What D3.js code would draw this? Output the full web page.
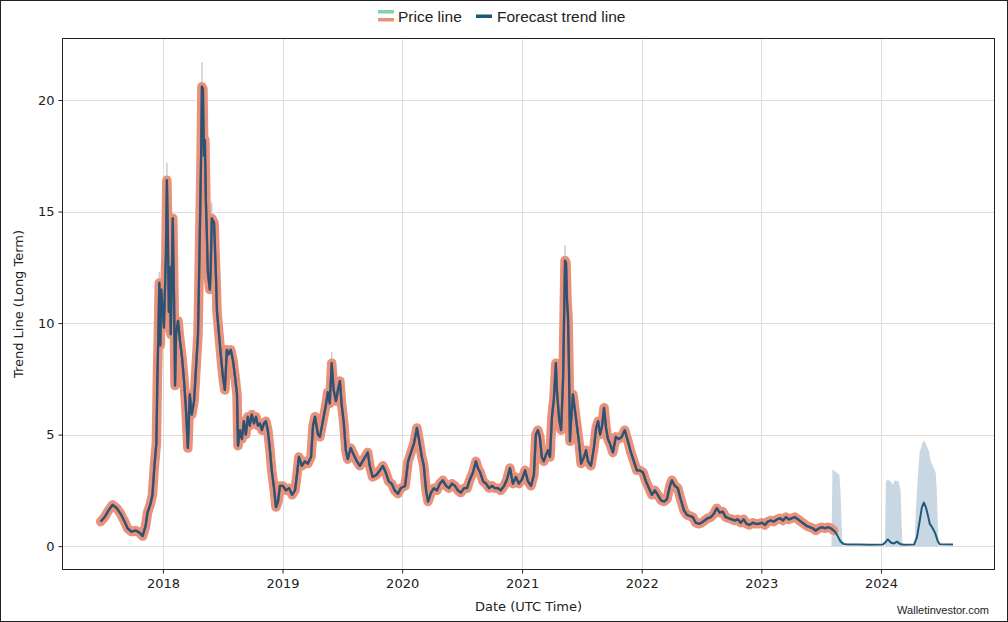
<!DOCTYPE html>
<html><head><meta charset="utf-8">
<script src="https://cdn.jsdelivr.net/npm/d3@7"></script>
<style>
html,body{margin:0;padding:0;background:#fff;}
svg{display:block;}
</style></head>
<body>
<svg id="chart" width="1008" height="622"></svg>
<script>
// ---------- DATA ----------
const priceSeries = [
["2017-06-25",1.1],["2017-07-07",1.3],["2017-07-19",1.6],["2017-07-31",1.85],["2017-08-13",1.7],["2017-08-25",1.45],
["2017-09-06",1.1],["2017-09-15",0.8],["2017-09-27",0.65],["2017-10-10",0.7],["2017-10-22",0.6],["2017-10-31",0.45],
["2017-11-09",0.9],["2017-11-15",1.5],["2017-11-24",1.9],["2017-11-30",2.3],["2017-12-06",3.6],["2017-12-12",4.6],
["2017-12-15",7.5],["2017-12-18",9.5],["2017-12-21",11.8],["2017-12-24",9.0],["2017-12-27",11.5],
["2018-01-04",9.8],["2018-01-10",13],["2018-01-13",16.4],["2018-01-16",14],["2018-01-19",10.5],["2018-01-22",12.5],
["2018-01-25",9.5],["2018-01-28",12],["2018-01-31",14.7],["2018-02-04",11],["2018-02-07",7.2],["2018-02-10",9.5],
["2018-02-16",10.1],["2018-02-22",9.2],["2018-02-28",8.5],["2018-03-06",7.5],["2018-03-12",6.2],["2018-03-18",4.4],
["2018-03-24",6.8],["2018-03-30",5.9],["2018-04-06",6.5],["2018-04-12",8.0],["2018-04-18",9.5],["2018-04-21",11.9],
["2018-04-27",17],["2018-04-30",20.6],["2018-05-03",20.5],["2018-05-06",17.5],["2018-05-09",18.2],["2018-05-12",15.5],
["2018-05-15",14],["2018-05-18",12.3],["2018-05-24",11.5],["2018-05-27",12.5],["2018-05-30",14.7],["2018-06-06",14.5],
["2018-06-12",12],["2018-06-15",10.5],["2018-06-21",9.5],["2018-06-27",8.5],["2018-07-03",7.6],["2018-07-09",7.0],
["2018-07-15",8.8],["2018-07-21",8.6],["2018-07-27",8.8],["2018-08-03",8.3],["2018-08-09",7.6],["2018-08-15",6.8],
["2018-08-18",4.5],["2018-08-24",5.2],["2018-08-30",4.8],["2018-09-05",5.6],["2018-09-11",5.0],["2018-09-17",5.8],
["2018-09-23",5.4],["2018-09-29",5.9],["2018-10-06",5.5],["2018-10-12",5.8],["2018-10-18",5.4],["2018-10-24",5.5],
["2018-10-30",5.2],["2018-11-05",5.5],["2018-11-11",5.6],["2018-11-17",5.2],["2018-11-23",4.4],["2018-11-29",3.4],
["2018-12-06",2.6],["2018-12-12",1.75],["2018-12-18",2.0],["2018-12-24",2.7],
["2019-01-02",2.7],["2019-01-11",2.5],["2019-01-21",2.6],["2019-01-30",2.3],["2019-02-08",2.5],["2019-02-14",3.2],
["2019-02-20",4.0],["2019-03-01",3.6],["2019-03-10",3.8],["2019-03-19",3.7],["2019-03-29",4.0],["2019-04-04",5.4],
["2019-04-10",5.8],["2019-04-19",5.0],["2019-04-25",4.9],["2019-05-04",5.6],["2019-05-13",6.3],["2019-05-19",6.9],
["2019-05-25",6.4],["2019-05-31",8.2],["2019-06-06",7.0],["2019-06-13",6.5],["2019-06-19",7.0],["2019-06-25",7.4],
["2019-06-30",6.4],["2019-07-07",5.5],["2019-07-13",4.3],["2019-07-19",3.9],["2019-07-28",4.4],["2019-08-06",4.1],
["2019-08-16",3.8],["2019-08-25",3.6],["2019-09-06",3.9],["2019-09-18",4.2],["2019-09-24",3.6],["2019-10-03",3.1],
["2019-10-15",3.2],["2019-10-25",3.4],["2019-11-03",3.6],["2019-11-12",3.3],["2019-11-21",2.9],["2019-11-30",2.8],
["2019-12-09",2.5],["2019-12-19",2.35],["2019-12-28",2.6],
["2020-01-10",2.7],["2020-01-19",3.8],["2020-01-28",4.2],["2020-02-06",4.6],["2020-02-15",5.3],["2020-02-21",4.8],
["2020-03-01",4.0],["2020-03-07",3.6],["2020-03-14",2.5],["2020-03-20",2.0],["2020-03-29",2.4],["2020-04-07",2.6],
["2020-04-16",2.5],["2020-04-25",2.8],["2020-05-04",2.95],["2020-05-14",2.7],["2020-05-23",2.6],["2020-06-01",2.8],
["2020-06-10",2.7],["2020-06-19",2.5],["2020-06-28",2.4],["2020-07-08",2.6],["2020-07-17",2.6],["2020-07-26",3.0],
["2020-08-04",3.3],["2020-08-13",3.8],["2020-08-19",3.5],["2020-08-26",3.3],["2020-09-04",2.9],["2020-09-13",2.8],
["2020-09-22",2.6],["2020-10-01",2.7],["2020-10-10",2.6],["2020-10-19",2.6],["2020-10-28",2.5],["2020-11-07",2.7],
["2020-11-16",3.0],["2020-11-25",3.5],["2020-12-04",2.8],["2020-12-13",3.1],["2020-12-22",2.8],
["2021-01-01",3.0],["2021-01-10",3.4],["2021-01-19",2.9],["2021-01-28",2.7],["2021-02-06",3.2],["2021-02-12",5.0],
["2021-02-18",5.2],["2021-02-24",4.9],["2021-03-02",4.0],["2021-03-08",3.8],["2021-03-15",4.1],["2021-03-21",4.3],
["2021-03-27",4.0],["2021-04-02",5.8],["2021-04-08",6.6],["2021-04-14",8.2],["2021-04-17",7.0],["2021-04-24",5.7],
["2021-04-30",5.2],["2021-05-06",7.5],["2021-05-12",12.8],["2021-05-15",12.7],["2021-05-18",11],["2021-05-21",10.3],
["2021-05-24",8],["2021-05-27",4.7],["2021-05-30",5.5],["2021-06-05",6.8],["2021-06-12",6.0],["2021-06-18",5.3],
["2021-06-24",4.6],["2021-06-30",3.7],["2021-07-09",4.0],["2021-07-15",4.3],["2021-07-21",3.8],["2021-07-30",3.6],
["2021-08-08",4.4],["2021-08-15",5.3],["2021-08-21",5.6],["2021-08-27",5.0],["2021-09-02",5.4],["2021-09-08",6.2],
["2021-09-14",5.3],["2021-09-20",4.8],["2021-09-26",4.6],["2021-10-05",4.2],["2021-10-14",4.9],["2021-10-23",4.8],
["2021-11-01",4.9],["2021-11-10",5.2],["2021-11-20",4.7],["2021-11-29",4.2],["2021-12-08",3.8],["2021-12-17",3.4],
["2021-12-26",3.4],
["2022-01-05",3.3],["2022-01-14",2.9],["2022-01-23",2.6],["2022-02-01",2.3],["2022-02-10",2.5],["2022-02-19",2.3],
["2022-03-01",2.05],["2022-03-10",2.0],["2022-03-19",2.1],["2022-03-28",2.7],["2022-04-03",2.95],["2022-04-12",2.7],
["2022-04-21",2.6],["2022-04-30",2.1],["2022-05-10",1.6],["2022-05-19",1.4],["2022-05-28",1.35],["2022-06-06",1.3],
["2022-06-15",1.05],["2022-06-24",1.0],["2022-07-03",1.05],["2022-07-12",1.15],["2022-07-21",1.25],["2022-07-31",1.3],
["2022-08-09",1.45],["2022-08-18",1.7],["2022-08-27",1.5],["2022-09-05",1.55],["2022-09-14",1.3],["2022-09-23",1.25],
["2022-10-03",1.2],["2022-10-12",1.15],["2022-10-21",1.2],["2022-10-30",1.05],["2022-11-08",1.2],["2022-11-17",1.0],
["2022-11-26",0.95],["2022-12-06",1.05],["2022-12-15",1.0],["2022-12-24",1.0],
["2023-01-03",1.05],["2023-01-12",0.95],["2023-01-21",1.1],["2023-01-30",1.15],["2023-02-08",1.1],["2023-02-18",1.2],
["2023-02-27",1.25],["2023-03-08",1.15],["2023-03-17",1.3],["2023-03-26",1.2],["2023-04-04",1.25],["2023-04-13",1.3],
["2023-04-23",1.2],["2023-05-02",1.1],["2023-05-11",1.0],["2023-05-20",0.9],["2023-05-29",0.85],["2023-06-07",0.8],
["2023-06-16",0.7],["2023-06-26",0.8],["2023-07-05",0.85],["2023-07-14",0.8],["2023-07-23",0.85],["2023-08-01",0.8],
["2023-08-10",0.7]
];

const forecastSeries = [
["2023-08-10",0.7],["2023-08-16",0.6],["2023-08-22",0.45],["2023-08-31",0.2],["2023-09-09",0.1],["2023-09-22",0.07],
["2023-10-28",0.07],["2023-11-28",0.06],["2024-01-07",0.07],["2024-01-16",0.2],["2024-01-22",0.3],["2024-02-01",0.15],
["2024-02-10",0.12],["2024-02-19",0.2],["2024-02-28",0.1],["2024-03-11",0.06],["2024-04-11",0.07],["2024-04-20",0.4],
["2024-04-29",1.2],["2024-05-05",1.75],["2024-05-11",1.95],["2024-05-17",1.75],["2024-05-23",1.4],["2024-05-29",1.0],
["2024-06-05",0.85],["2024-06-14",0.6],["2024-06-23",0.2],["2024-06-29",0.08],["2024-08-08",0.07]
];

// forecast band: [date, lower, upper]; null marks a gap
const forecastBand = [
["2023-08-03",0,0],["2023-08-06",0,3.45],["2023-08-15",0,3.35],["2023-08-27",0,3.2],["2023-08-30",0,2.6],
["2023-09-05",0,0.2],["2023-09-08",0,0],null,
["2024-01-13",0,0],["2024-01-16",0,2.9],["2024-01-22",0,3.0],["2024-01-31",0,2.9],["2024-02-06",0,2.75],
["2024-02-12",0,2.95],["2024-02-24",0,2.9],["2024-03-01",0,2.5],["2024-03-04",0,1.0],["2024-03-07",0,0],null,
["2024-04-13",0,0],["2024-04-16",0,1.5],["2024-04-22",0,3.0],["2024-04-28",0,4.2],["2024-05-07",0,4.65],
["2024-05-13",0,4.75],["2024-05-19",0,4.5],["2024-05-26",0,4.3],["2024-06-01",0,3.8],["2024-06-10",0,3.5],
["2024-06-16",0,3.3],["2024-06-19",0,2.6],["2024-06-22",0,1.2],["2024-06-25",0,0]
];

// intraperiod highs visible above the price line: [date, low, high]
const highSpikes = [
["2017-12-21",11.8,12.3],["2018-01-13",16.4,17.2],["2018-04-30",20.6,21.7],["2018-05-30",14.7,15.4],
["2019-05-31",8.2,8.7],["2021-05-12",12.8,13.5]
];

const xDomain = ["2017-02-27","2024-12-14"];
const yDomain = [-1.07, 22.78];
const yTicks = [0,5,10,15,20];
const xTickYears = [2018,2019,2020,2021,2022,2023,2024];
const legendItems = ["Price line","Forecast trend line"];

// ---------- DRAW ----------
const parse = d3.timeParse("%Y-%m-%d");
const svg = d3.select("#chart");
const W = 1008, H = 622;
const L = 62, R = 995, T = 38, B = 570;

svg.append("rect").attr("x",0.5).attr("y",0.5).attr("width",W-1).attr("height",H-1)
  .attr("fill","#fff").attr("stroke","#222").attr("stroke-width",1);

const x = d3.scaleTime().domain(xDomain.map(parse)).range([L,R]);
const y = d3.scaleLinear().domain(yDomain).range([B,T]);

svg.append("clipPath").attr("id","plotclip").append("rect")
  .attr("x",L).attr("y",T).attr("width",R-L).attr("height",B-T);

// grid
const grid = svg.append("g");
xTickYears.forEach(yr=>{
  const xx = Math.round(x(new Date(yr,0,1)))+0.5;
  grid.append("line").attr("x1",xx).attr("x2",xx).attr("y1",T).attr("y2",B)
    .attr("stroke","#dedede").attr("stroke-width",1);
});
yTicks.forEach(v=>{
  const yy = Math.round(y(v))+0.5;
  grid.append("line").attr("x1",L).attr("x2",R).attr("y1",yy).attr("y2",yy)
    .attr("stroke","#dedede").attr("stroke-width",1);
});

const plot = svg.append("g").attr("clip-path","url(#plotclip)");

// forecast band
const bandData = forecastBand.map(d=> d ? {date:parse(d[0]), lo:d[1], hi:d[2]} : null);
plot.append("path").datum(bandData)
  .attr("d", d3.area().defined(d=>d!==null).x(d=>x(d.date)).y0(d=>y(d.lo)).y1(d=>y(d.hi)))
  .attr("fill","#9db7cb").attr("fill-opacity",0.55);

// high spikes
highSpikes.forEach(d=>{
  const xx = x(parse(d[0]));
  plot.append("line").attr("x1",xx).attr("x2",xx).attr("y1",y(d[1])).attr("y2",y(d[2]))
    .attr("stroke","#c9cdd2").attr("stroke-width",1.5);
});

const pData = priceSeries.map(d=>({date:parse(d[0]), v:d[1]}));
const fData = forecastSeries.map(d=>({date:parse(d[0]), v:d[1]}));
const line = d3.line().x(d=>x(d.date)).y(d=>y(d.v)).curve(d3.curveLinear);

// price line (wide salmon)
plot.append("path").datum(pData).attr("d",line)
  .attr("fill","none").attr("stroke","#e8927c").attr("stroke-width",9.5)
  .attr("stroke-linejoin","round").attr("stroke-linecap","round");
// dark inner price line
plot.append("path").datum(pData).attr("d",line)
  .attr("fill","none").attr("stroke","#45394a").attr("stroke-width",2.2)
  .attr("stroke-linejoin","round");
// trend line over price
plot.append("path").datum(pData).attr("d",line)
  .attr("fill","none").attr("stroke","#1f6491").attr("stroke-width",2.4).attr("stroke-opacity",0.6)
  .attr("stroke-linejoin","round");
// forecast trend line
plot.append("path").datum(fData).attr("d",line)
  .attr("fill","none").attr("stroke","#21597a").attr("stroke-width",2)
  .attr("stroke-linejoin","round");

// frame
svg.append("rect").attr("x",L+0.5).attr("y",T+0.5).attr("width",R-L-1).attr("height",B-T-1)
  .attr("fill","none").attr("stroke","#222").attr("stroke-width",1);

// axes
const fontTick = "'DejaVu Sans', sans-serif";
const yAxis = d3.axisLeft(y).tickValues(yTicks).tickSize(4).tickPadding(4).tickFormat(d3.format("d"));
const gy = svg.append("g").attr("transform",`translate(${L+0.5},0)`).call(yAxis);
gy.select(".domain").remove();
gy.selectAll("text").attr("font-family",fontTick).attr("font-size",13).attr("fill","#222");
gy.selectAll("line").attr("stroke","#222");

const xAxis = d3.axisBottom(x).tickValues(xTickYears.map(yr=>new Date(yr,0,1))).tickSize(4).tickPadding(5)
  .tickFormat(d3.timeFormat("%Y"));
const gx = svg.append("g").attr("transform",`translate(0,${B-0.5})`).call(xAxis);
gx.select(".domain").remove();
gx.selectAll("text").attr("font-family",fontTick).attr("font-size",13).attr("fill","#222");
gx.selectAll("line").attr("stroke","#222");

// axis labels
svg.append("text").attr("x",(L+R)/2).attr("y",611).attr("text-anchor","middle")
  .attr("font-family",fontTick).attr("font-size",13).attr("fill","#222").text("Date (UTC Time)");
svg.append("text").attr("transform",`translate(23,${(T+B)/2}) rotate(-90)`).attr("text-anchor","middle")
  .attr("font-family",fontTick).attr("font-size",13).attr("fill","#222").text("Trend Line (Long Term)");

// watermark
svg.append("text").attr("x",989).attr("y",614).attr("text-anchor","end")
  .attr("font-family","'Liberation Sans', Arial, sans-serif").attr("font-size",11).attr("fill","#222")
  .text("Walletinvestor.com");

// legend
const lg = svg.append("g");
const lf = "'Liberation Sans', Arial, sans-serif";
lg.append("rect").attr("x",378).attr("y",10).attr("width",16).attr("height",3.5).attr("fill","#7fd3ad");
lg.append("rect").attr("x",378).attr("y",18).attr("width",16).attr("height",3.5).attr("fill","#e8927c");
lg.append("text").attr("x",398).attr("y",22).attr("font-family",lf).attr("font-size",15.5).attr("fill","#222").text(legendItems[0]);
lg.append("rect").attr("x",476).attr("y",14.5).attr("width",16).attr("height",3.5).attr("fill","#1e5878");
lg.append("text").attr("x",497).attr("y",22).attr("font-family",lf).attr("font-size",15.5).attr("fill","#222").text(legendItems[1]);
</script>
</body></html>
